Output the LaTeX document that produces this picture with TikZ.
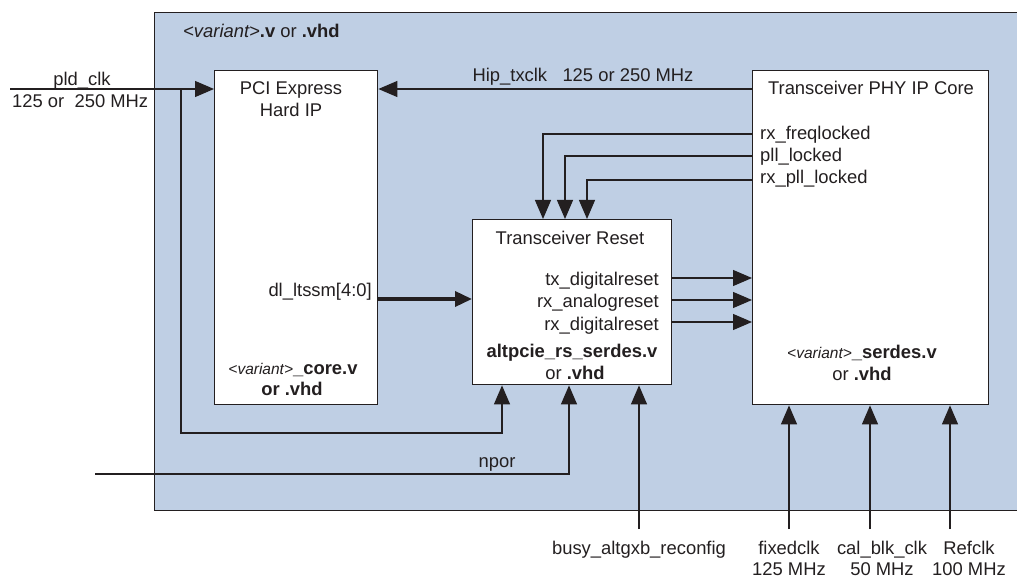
\documentclass[tikz,border=0pt]{standalone}
\usepackage{fontspec}
\setmainfont{Liberation Sans}
\usetikzlibrary{arrows.meta}
\definecolor{bgblue}{RGB}{191,207,228}
\definecolor{ink}{RGB}{35,31,32}
\begin{document}
\begin{tikzpicture}[x=1pt,y=-1pt,
  font=\fontsize{18.4}{21}\selectfont,
  outerbox/.style={draw=ink, line width=1.4pt, fill=bgblue, inner sep=0, anchor=north west},
  box/.style={draw=ink, line width=1.4pt, fill=white, inner sep=0, anchor=north west},
  wire/.style={draw=ink, line width=1.3pt},
  arr/.style={wire, -{Triangle[length=19pt,width=16pt]}},
  thickarr/.style={draw=ink, line width=3.5pt, -{Triangle[length=17pt,width=15pt]}},
  lbl/.style={inner sep=0, anchor=base, text=ink},
  lblw/.style={lbl, anchor=base west},
  lble/.style={lbl, anchor=base east}]
\useasboundingbox (0,0) rectangle (1017,577);
% container
\node[outerbox, minimum width=866pt, minimum height=498pt] (outer) at (154,12) {};
\node[lblw] (title) at (183,38) {\textit{<variant>}\textbf{.v} or \textbf{.vhd}};
% blocks
\node[box, minimum width=163pt, minimum height=334pt] (pci) at (214,70) {};
\node[box, minimum width=199pt, minimum height=165pt] (reset) at (472,219) {};
\node[box, minimum width=236pt, minimum height=334pt] (phy) at (752,70) {};
% block texts
\node[lbl] (pcit1) at (291,95) {PCI Express};
\node[lbl] (pcit2) at (291,117) {Hard IP};
\node[lble] (dltxt) at (372,297) {dl\_ltssm[4:0]};
\node[lbl] (pcif1) at (293,374) {{\fontsize{15.5}{18}\selectfont\itshape <variant>}\textbf{\_core.v}};
\node[lbl] (pcif2) at (292,395) {\textbf{or .vhd}};
\node[lbl] (rst1) at (570,245) {Transceiver Reset};
\node[lble] (txd) at (659,286) {tx\_digitalreset};
\node[lble] (rxa) at (659,307) {rx\_analogreset};
\node[lble] (rxd) at (659,330) {rx\_digitalreset};
\node[lbl] (rstf1) at (572,357) {\textbf{altpcie\_rs\_serdes.v}};
\node[lbl] (rstf2) at (575,379) {or \textbf{.vhd}};
\node[lbl] (phyt) at (871,95) {Transceiver PHY IP Core};
\node[lblw] (frq) at (760,140) {rx\_freqlocked};
\node[lblw] (pll) at (760,162) {pll\_locked};
\node[lblw] (rxpll) at (760,184) {rx\_pll\_locked};
\node[lbl] (phyf1) at (862,358) {{\fontsize{15.5}{18}\selectfont\itshape <variant>}\textbf{\_serdes.v}};
\node[lbl] (phyf2) at (862,380) {or \textbf{.vhd}};
% outside labels
\node[lbl] (pldlbl) at (82,86) {pld\_clk};
\node[lblw] (pldf) at (12,108) {125 or~~250 MHz};
\node[lbl] (hiplbl) at (583,82) {Hip\_txclk~~~125 or 250 MHz};
\node[lbl] (nporlbl) at (497,467) {npor};
\node[lbl] (busylbl) at (639,554) {busy\_altgxb\_reconfig};
\node[lbl] (fxlbl) at (789,554) {fixedclk};
\node[lbl] (fxf) at (789,575) {125 MHz};
\node[lbl] (callbl) at (882,554) {cal\_blk\_clk};
\node[lbl] (calf) at (882,575) {50 MHz};
\node[lbl] (reflbl) at (969,554) {Refclk};
\node[lbl] (reff) at (969,575) {100 MHz};
% coordinates
\coordinate (pldin) at (10,89);
\coordinate (pldsplit) at (181,89);
\coordinate (loopy) at (502,433);
\coordinate (nporin) at (95,474);
\coordinate (npx) at (569,474);
\coordinate (busy) at (639,529);
\coordinate (f1) at (543,134);
\coordinate (f2) at (565,156);
\coordinate (f3) at (587,180);
\coordinate (o1) at (0,278);
\coordinate (o2) at (0,300);
\coordinate (o3) at (0,322);
\coordinate (dl) at (0,299);
\coordinate (fx) at (789,529);
\coordinate (cal) at (870,529);
\coordinate (ref) at (950,529);
% connectors
\draw[arr] (pldin) -- (pci.west |- pldin);
\draw[arr] (pldsplit) |- (loopy) -- (reset.south -| loopy);
\draw[arr] (nporin) -- (npx) -- (reset.south -| npx);
\draw[arr] (busy) -- (reset.south -| busy);
\draw[arr] (phy.west |- pldin) -- (pci.east |- pldin);
\draw[arr] (phy.west |- f1) -| (reset.north -| f1);
\draw[arr] (phy.west |- f2) -| (reset.north -| f2);
\draw[arr] (phy.west |- f3) -| (reset.north -| f3);
\draw[arr] (reset.east |- o1) -- (phy.west |- o1);
\draw[arr] (reset.east |- o2) -- (phy.west |- o2);
\draw[arr] (reset.east |- o3) -- (phy.west |- o3);
\draw[thickarr] (pci.east |- dl) -- (reset.west |- dl);
\draw[arr] (fx) -- (phy.south -| fx);
\draw[arr] (cal) -- (phy.south -| cal);
\draw[arr] (ref) -- (phy.south -| ref);
\end{tikzpicture}
\end{document}
